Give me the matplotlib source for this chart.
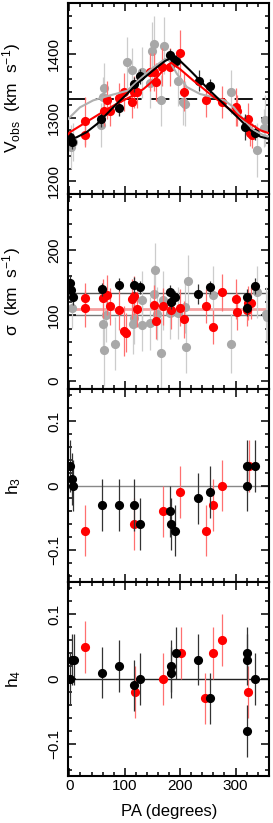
import matplotlib
matplotlib.use("Agg")
import matplotlib.pyplot as plt
from matplotlib.ticker import MultipleLocator, FuncFormatter

plt.rcParams['font.family'] = ['Liberation Sans', 'DejaVu Sans']
plt.rcParams['mathtext.fontset'] = 'custom'
plt.rcParams['mathtext.rm'] = 'Liberation Sans'
plt.rcParams['mathtext.default'] = 'regular'
plt.rcParams['lines.scale_dashes'] = False

# ── colours ────────────────────────────────────────────────────────────────
C_GREY = "#a8a8a8"
C_GREY_ERR = "#cccccc"
C_RED = "#ff0000"
C_RED_ERR = "#ff7070"
C_BLK = "#000000"

# ── panel 1 : V_obs ────────────────────────────────────────────────────────
v_pa_grey = [3, 6, 57, 61, 63, 104, 113, 131, 146, 149, 153, 166, 170, 197, 205, 209, 291, 339, 351, 354]
v_grey    = [1254, 1262, 1288, 1333, 1346, 1387, 1374, 1371, 1355, 1405, 1415, 1327, 1413, 1358, 1324, 1322, 1340, 1249, 1283, 1296]
v_err_grey = [35, 30, 35, 30, 40, 40, 35, 40, 40, 45, 45, 40, 45, 40, 35, 35, 35, 43, 30, 40]

v_pa_red = [28, 28, 62, 68, 74, 89, 98, 113, 116, 122, 146, 152, 157, 167, 182, 200, 207, 247, 275, 300, 303, 322, 326, 330]
v_red    = [1272, 1295, 1311, 1328, 1311, 1330, 1340, 1324, 1340, 1340, 1372, 1371, 1356, 1379, 1379, 1401, 1340, 1327, 1324, 1317, 1311, 1298, 1275, 1272]
v_err_red = [18, 38, 25, 30, 25, 25, 30, 25, 25, 25, 30, 30, 30, 30, 30, 37, 30, 26, 25, 30, 25, 25, 20, 20]

v_pa_blk = [2, 5, 57, 89, 116, 128, 182, 188, 192, 234, 254, 318, 336]
v_blk    = [1270, 1262, 1297, 1315, 1352, 1365, 1398, 1392, 1389, 1358, 1349, 1285, 1276]
v_err_blk = [12, 12, 12, 12, 12, 12, 10, 10, 10, 17, 12, 20, 12]

# fitted curves
fit_pa_blk = [-2, 13, 31, 50, 68, 86, 104, 122, 140, 158, 173, 182, 200, 218, 236, 254, 272, 291, 309, 327, 345, 362]
fit_v_blk  = [1265, 1269, 1277, 1290, 1306, 1322, 1337, 1353, 1366, 1379, 1389, 1393, 1389, 1374, 1358, 1342, 1327, 1311, 1296, 1280, 1270, 1266]
fit_pa_red = [-2, 1, 25, 55, 86, 116, 134, 158, 176, 184, 200, 224, 254, 285, 309, 327, 345, 362]
fit_v_red  = [1274, 1277, 1290, 1306, 1322, 1335, 1345, 1363, 1381, 1386, 1376, 1358, 1337, 1316, 1301, 1290, 1280, 1275]
fit_pa_grey = [-2, 19, 43, 74, 104, 128, 152, 173, 180, 194, 212, 236, 260, 280, 297, 315, 333, 351, 362]
fit_v_grey  = [1298, 1316, 1327, 1335, 1342, 1361, 1379, 1392, 1390, 1369, 1348, 1337, 1332, 1327, 1316, 1296, 1280, 1272, 1270]

v_sys = 1329

# ── panel 2 : sigma ────────────────────────────────────────────────────────
s_pa_grey = [5, 60, 63, 66, 83, 114, 116, 131, 131, 145, 152, 154, 159, 165, 169, 182, 197, 209, 210, 214, 259, 292, 339, 355, 357]
s_grey    = [111, 87, 47, 100, 57, 87, 96, 123, 86, 88, 132, 169, 103, 43, 123, 104, 104, 113, 52, 152, 131, 57, 136, 103, 97]
s_err_grey = [30, 45, 55, 40, 40, 45, 40, 45, 40, 40, 45, 42, 40, 55, 45, 40, 40, 40, 40, 40, 45, 45, 40, 40, 40]

s_pa_red = [28, 28, 61, 68, 74, 89, 98, 102, 113, 116, 122, 152, 157, 169, 183, 200, 207, 247, 259, 275, 301, 303, 321, 322, 328]
s_red    = [126, 111, 126, 131, 114, 108, 76, 74, 125, 130, 110, 116, 92, 114, 108, 112, 94, 115, 82, 135, 125, 106, 108, 119, 119]
s_err_red = [24, 28, 30, 30, 28, 30, 38, 30, 30, 30, 28, 30, 28, 28, 28, 28, 28, 26, 26, 28, 30, 28, 24, 26, 24]

s_pa_blk = [1, 3, 6, 59, 89, 116, 128, 182, 183, 191, 233, 254, 320, 320, 336]
s_blk    = [150, 139, 128, 140, 147, 146, 143, 135, 120, 128, 133, 143, 128, 111, 145]
s_err_blk = [12, 12, 12, 10, 10, 12, 10, 12, 10, 10, 15, 10, 12, 12, 12]

s_mean_blk, s_mean_red, s_mean_grey = 134, 110, 101

# ── panel 3 : h3 ───────────────────────────────────────────────────────────
h3_pa_red = [28, 116, 169, 200, 247, 259, 275, 324]
h3_red    = [-0.07, -0.06, -0.04, -0.01, -0.07, -0.03, 0.0, 0.03]
h3_err_red = [0.04] * 8

h3_pa_blk = [2, 4, 7, 59, 89, 116, 128, 182, 183, 191, 233, 254, 320, 320, 336]
h3_blk    = [0.03, 0.01, 0.0, -0.03, -0.03, -0.03, -0.06, -0.04, -0.06, -0.07, -0.02, -0.01, 0.03, 0.0, 0.03]
h3_err_blk = [0.04] * 15

# ── panel 4 : h4 ───────────────────────────────────────────────────────────
h4_pa_red = [28, 118, 169, 201, 245, 259, 275, 322]
h4_red    = [0.05, -0.02, 0.0, 0.04, -0.03, 0.04, 0.06, -0.02]
h4_err_red = [0.04] * 8

h4_pa_blk = [2, 4, 8, 59, 89, 117, 128, 183, 183, 192, 233, 254, 320, 320, 320, 336]
h4_blk    = [0.0, 0.03, 0.03, 0.01, 0.02, -0.01, 0.0, 0.02, 0.01, 0.04, 0.03, -0.03, 0.04, 0.03, -0.08, 0.0]
h4_err_blk = [0.04] * 16

# ── figure ─────────────────────────────────────────────────────────────────
fig = plt.figure(figsize=(2.73, 8.23), dpi=100)
L, W = 0.250, 0.7365
bounds = [(0.7643, 0.9964), (0.5273, 0.7643), (0.2928, 0.5273), (0.0571, 0.2928)]
axes = [fig.add_axes([L, b, W, t - b]) for b, t in bounds]


def points(ax, x, y, e, col, ecol, z):
    ax.errorbar(x, y, yerr=e, fmt="o", ms=6.6, mfc=col, mec=col, mew=0,
                ecolor=ecol, elinewidth=0.9, capsize=1.6, capthick=0.9,
                zorder=z)


def hfmt(v, p):
    if abs(v) < 1e-9:
        return "0"
    return f"{v:.1f}".replace("-", "\u2212")


for ax in axes:
    ax.set_xlim(-2, 361)
    ax.xaxis.set_major_locator(MultipleLocator(100))
    ax.xaxis.set_minor_locator(MultipleLocator(20))
    ax.tick_params(which="both", direction="in", top=True, right=True,
                   width=1.1, labelsize=11)
    ax.tick_params(which="major", length=6)
    ax.tick_params(which="minor", length=3)
    ax.tick_params(axis="y", labelrotation=90, pad=5)
    for s in ax.spines.values():
        s.set_linewidth(1.5)
    if ax is not axes[-1]:
        ax.tick_params(axis="x", labelbottom=False)
    ax.yaxis.set_label_coords(-0.225, 0.5)

# panel 1
ax = axes[0]
points(ax, v_pa_grey, v_grey, v_err_grey, C_GREY, C_GREY_ERR, 2)
points(ax, v_pa_red, v_red, v_err_red, C_RED, C_RED_ERR, 3)
points(ax, v_pa_blk, v_blk, v_err_blk, C_BLK, "#333333", 4)
ax.axhline(v_sys, color="black", lw=1.3, dashes=(13, 7), zorder=1)
ax.plot(fit_pa_grey, fit_v_grey, color="#b0b0b0", lw=1.5, zorder=5)
ax.plot(fit_pa_red, fit_v_red, color=C_RED, lw=1.5, zorder=5)
ax.plot(fit_pa_blk, fit_v_blk, color=C_BLK, lw=1.5, zorder=5)
ax.set_ylim(1180, 1480)
ax.yaxis.set_major_locator(MultipleLocator(100))
ax.yaxis.set_minor_locator(MultipleLocator(20))
ax.set_ylabel("V$_{obs}$  (km  s$^{-1}$)", fontsize=12.5)

# panel 2
ax = axes[1]
points(ax, s_pa_grey, s_grey, s_err_grey, C_GREY, C_GREY_ERR, 2)
points(ax, s_pa_red, s_red, s_err_red, C_RED, C_RED_ERR, 3)
points(ax, s_pa_blk, s_blk, s_err_blk, C_BLK, "#333333", 4)
ax.axhline(s_mean_blk, color="#555555", lw=1.0, zorder=1)
ax.axhline(s_mean_grey, color="#777777", lw=1.0, zorder=1)
ax.axhline(s_mean_red, color="#f5a0a0", lw=2.0, zorder=1)
ax.set_ylim(-12, 285)
ax.yaxis.set_major_locator(MultipleLocator(100))
ax.yaxis.set_minor_locator(MultipleLocator(20))
ax.set_ylabel("\u03c3  (km  s$^{-1}$)", fontsize=12.5)

# panel 3
ax = axes[2]
points(ax, h3_pa_red, h3_red, h3_err_red, C_RED, C_RED_ERR, 3)
points(ax, h3_pa_blk, h3_blk, h3_err_blk, C_BLK, "#333333", 4)
ax.axhline(0, color="#888888", lw=1.0, zorder=1)
ax.set_ylim(-0.15, 0.15)
ax.yaxis.set_major_locator(MultipleLocator(0.1))
ax.yaxis.set_minor_locator(MultipleLocator(0.02))
ax.yaxis.set_major_formatter(FuncFormatter(hfmt))
ax.set_ylabel("h$_3$", fontsize=12.5)

# panel 4
ax = axes[3]
points(ax, h4_pa_red, h4_red, h4_err_red, C_RED, C_RED_ERR, 3)
points(ax, h4_pa_blk, h4_blk, h4_err_blk, C_BLK, "#333333", 4)
ax.axhline(0, color="#222222", lw=1.0, zorder=1)
ax.set_ylim(-0.15, 0.15)
ax.yaxis.set_major_locator(MultipleLocator(0.1))
ax.yaxis.set_minor_locator(MultipleLocator(0.02))
ax.yaxis.set_major_formatter(FuncFormatter(hfmt))
ax.set_ylabel("h$_4$", fontsize=12.5)
ax.set_xlabel("PA (degrees)", fontsize=12)
ax.xaxis.set_label_coords(0.5, -0.145)
ax.tick_params(axis="x", pad=2)

for ax in axes:
    for lab in ax.get_yticklabels():
        lab.set_va("center")

fig.savefig("out.png", dpi=100)
